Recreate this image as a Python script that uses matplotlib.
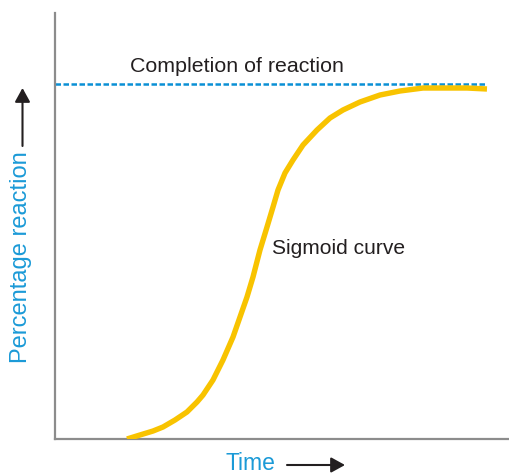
import matplotlib
matplotlib.use("Agg")
import matplotlib.pyplot as plt

plt.rcParams['font.family'] = ['Liberation Sans', 'DejaVu Sans']

# Sigmoid curve values (time 0-100, percentage 0-120 axis)
time = [15.86, 18.72, 21.59, 23.79, 26.43, 29.07, 31.28, 32.60, 34.80, 37.00,
        39.21, 40.75, 42.29, 43.61, 45.15, 46.70, 48.02, 49.12, 50.66, 52.42,
        54.63, 57.71, 60.57, 63.44, 67.18, 71.59, 75.99, 81.06, 86.34, 90.75, 95.15]
percent = [0.0, 1.13, 2.25, 3.38, 5.35, 7.61, 10.42, 12.39, 16.62, 22.25,
           28.73, 34.37, 40.00, 45.63, 53.24, 59.72, 65.35, 70.14, 74.93, 78.59,
           82.82, 87.04, 90.42, 92.68, 94.93, 96.90, 98.03, 98.87, 98.87, 98.87, 98.59]
completion_level = 100
completion_x = [0, 94.7]

x_label = "Time"
y_label = "Percentage reaction"
completion_text = "Completion of reaction"
curve_text = "Sigmoid curve"

W, H = 509, 473
fig = plt.figure(figsize=(W / 100, H / 100), dpi=100)
ax = fig.add_axes([55 / W, 34 / H, 454 / W, 426 / H])
ax.set_xlim(0, 100)
ax.set_ylim(0, 120)

ax.plot(time, percent, color='#F8C300', lw=3.9, solid_capstyle='butt',
        solid_joinstyle='round', zorder=3)
ax.plot(completion_x, [completion_level] * 2, color='#0A90D5', lw=1.8,
        dashes=(2.2, 1.0), zorder=2)

ax.text(16.5, 103.4, completion_text, fontsize=15.4, color='#231F20', va='baseline', ha='left')
ax.text(47.8, 52.1, curve_text, fontsize=15.1, color='#231F20', va='baseline', ha='left')

for s in ['top', 'right']:
    ax.spines[s].set_visible(False)
for s in ['left', 'bottom']:
    ax.spines[s].set_color('#8C8C8C')
    ax.spines[s].set_linewidth(1.6)
ax.set_xticks([])
ax.set_yticks([])

blue = '#1B9AD7'
fig.text(21 / W, (H - 257) / H, y_label, rotation=90, fontsize=17, color=blue,
         ha='center', va='center')
fig.text(250.5 / W, 3.5 / H, x_label, fontsize=16.5, color=blue, ha='center', va='baseline')

arrow_kw = dict(arrowstyle='-|>,head_length=0.4,head_width=0.22', lw=1.5,
                color='#231F20', mutation_scale=21, shrinkA=0, shrinkB=0)
ax.annotate('', xy=(22.5, H - 88), xytext=(22.5, H - 146), xycoords='figure pixels',
            textcoords='figure pixels', arrowprops=arrow_kw, annotation_clip=False)
ax.annotate('', xy=(345, H - 465), xytext=(287, H - 465), xycoords='figure pixels',
            textcoords='figure pixels', arrowprops=arrow_kw, annotation_clip=False)

fig.savefig('out.png', dpi=100)
